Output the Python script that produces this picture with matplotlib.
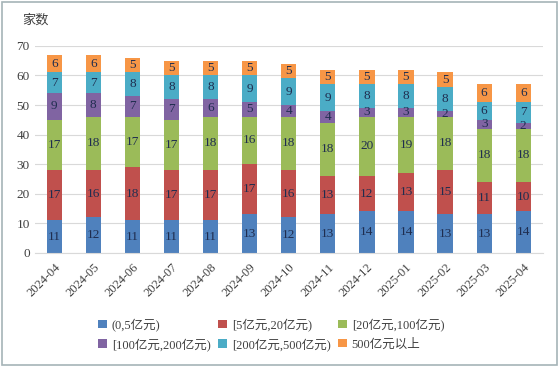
import matplotlib
matplotlib.use("Agg")
from matplotlib import pyplot as plt
import numpy as np

plt.rcParams['font.family'] = ['Liberation Serif', 'Noto Sans CJK SC', 'DejaVu Sans']

months = ['2024-04', '2024-05', '2024-06', '2024-07', '2024-08', '2024-09', '2024-10',
          '2024-11', '2024-12', '2025-01', '2025-02', '2025-03', '2025-04']
series_names = ['(0,5亿元)', '[5亿元,20亿元)', '[20亿元,100亿元)',
                '[100亿元,200亿元)', '[200亿元,500亿元)', '500亿元以上']
s_0_5 = [11, 12, 11, 11, 11, 13, 12, 13, 14, 14, 13, 13, 14]
s_5_20 = [17, 16, 18, 17, 17, 17, 16, 13, 12, 13, 15, 11, 10]
s_20_100 = [17, 18, 17, 17, 18, 16, 18, 18, 20, 19, 18, 18, 18]
s_100_200 = [9, 8, 7, 7, 6, 5, 4, 4, 3, 3, 2, 3, 2]
s_200_500 = [7, 7, 8, 8, 8, 9, 9, 9, 8, 8, 8, 6, 7]
s_500_up = [6, 6, 5, 5, 5, 5, 5, 5, 5, 5, 5, 6, 6]
colors = ['#4F81BD', '#C0504D', '#9BBB59', '#8064A2', '#4BACC6', '#F79646']

fig = plt.figure(figsize=(5.59, 3.67), dpi=100)
ax = fig.add_axes([0.062, 0.311, 0.909, 0.564])

x = np.arange(len(months))
bottom = np.zeros(len(months))
for name, vals, c in zip(series_names,
                         [s_0_5, s_5_20, s_20_100, s_100_200, s_200_500, s_500_up],
                         colors):
    vals = np.array(vals)
    bars = ax.bar(x, vals, width=0.39, bottom=bottom, color=c, label=name, zorder=2)
    ax.bar_label(bars, labels=[str(v) for v in vals], label_type='center',
                 fontsize=9.5, color='#1F2D4F')
    bottom += vals

ax.set_xlim(-0.5, len(months) - 0.5)
ax.set_ylim(0, 70)
ax.set_yticks(range(0, 71, 10))
ax.yaxis.grid(True, color='#D9D9D9', linewidth=0.8, zorder=0)
ax.set_axisbelow(True)
for s in ['top', 'right', 'left']:
    ax.spines[s].set_visible(False)
ax.spines['bottom'].set_color('#D9D9D9')
ax.tick_params(axis='both', length=0, labelsize=9.5, colors='#404040')
ax.set_xticks(x)
ax.set_xticklabels(months, rotation=45, ha='right', rotation_mode='anchor', fontsize=9)
ax.tick_params(axis='x', pad=6)

fig.text(0.04, 0.945, '家数', fontsize=9.5, color='#404040', va='center')

# legend is filled row by row in the reference
handles, labels = ax.get_legend_handles_labels()
order = [0, 3, 1, 4, 2, 5]
fig.legend([handles[i] for i in order], [labels[i] for i in order],
           loc='center', bbox_to_anchor=(0.485, 0.088), ncol=3, frameon=False,
           fontsize=9, handlelength=0.7, handleheight=0.7, handletextpad=0.4,
           columnspacing=0.6, labelspacing=0.55, labelcolor='#404040')

fig.patches.append(plt.Rectangle((0.003, 0.005), 0.994, 0.99, transform=fig.transFigure,
                                 fill=False, edgecolor='#A6B4B8', linewidth=1.2))

fig.savefig('out.png', dpi=100)
